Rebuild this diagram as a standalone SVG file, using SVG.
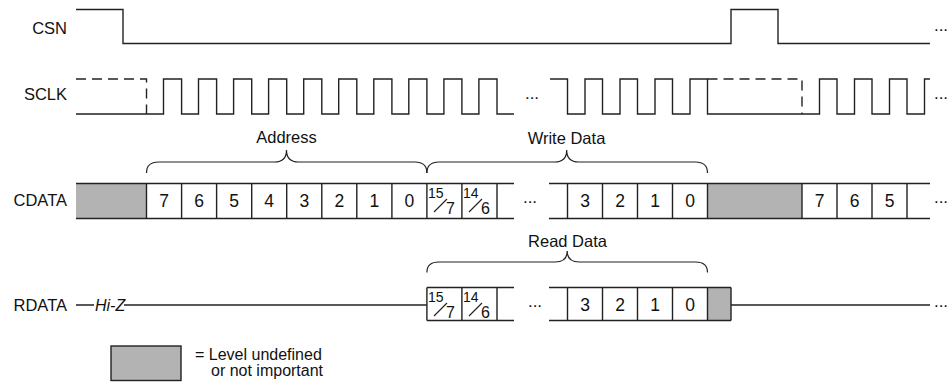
<svg xmlns="http://www.w3.org/2000/svg" width="947" height="385" viewBox="0 0 947 385">
<style>
text{font-family:"Liberation Sans",Arial,Helvetica,sans-serif;fill:#111}
.lbl{font-size:16.5px;text-anchor:end}
.dig{font-size:17.5px;text-anchor:middle}
.sup{font-size:14px}
.sub{font-size:16px}
.cap{font-size:16.5px;text-anchor:middle}
.dots{font-size:17px;text-anchor:middle}
.leg{font-size:16px}
.w{fill:none;stroke:#222;stroke-width:1.4}
.d{fill:none;stroke:#222;stroke-width:1.4;stroke-dasharray:10,6}
.g{fill:#b3b3b3;stroke:none}
.br{fill:none;stroke:#222;stroke-width:1.2}
</style>
<rect width="947" height="385" fill="#fff"/>
<g id="labels">
<text class="lbl" x="67" y="33.5">CSN</text>
<text class="lbl" x="67" y="100">SCLK</text>
<text class="lbl" x="67" y="206">CDATA</text>
<text class="lbl" x="67" y="310.5">RDATA</text>
</g>
<g id="csn">
<path class="w" d="M76,9.5 H123 V43.5 H731 V9.5 H778 V43.5 H930"/>
<text class="dots" x="941" y="31">...</text>
</g>
<g id="sclk">
<path class="d" d="M76,79 H146.5 V114"/>
<path class="w" d="M76,114 H163.5 V79 H181.6 V114 H198.5 V79 H216.6 V114 H233.6 V79 H251.7 V114 H268.6 V79 H286.7 V114 H303.7 V79 H321.8 V114 H338.7 V79 H356.8 V114 H373.8 V79 H391.9 V114 H408.8 V79 H426.9 V114 H443.9 V79 H461.9 V114 H478.9 V79 H497 V114 H514"/>
<text class="dots" x="532" y="99">...</text>
<path class="w" d="M550,79 H567.5 V114 H585 V79 H602.5 V114 H620 V79 H637.5 V114 H655 V79 H672.5 V114 H690 V79 H707.5 V114 H819.5 V79 H837 V114 H854.5 V79 H872 V114 H889.5 V79 H907 V114 H924.5 V79 H930"/>
<path class="d" d="M707.5,79 H802 V114"/>
<text class="dots" x="941" y="99">...</text>
</g>
<g id="braces">
<path class="br" d="M146.5,173 Q146.5,162 158.5,162 L274.5,162 Q286.5,162 286.5,150 Q286.5,162 298.5,162 L414.9,162 Q426.9,162 426.9,173"/>
<path class="br" d="M426.9,173 Q426.9,162 438.9,162 L554.7,162 Q566.7,162 566.7,150 Q566.7,162 578.7,162 L695.5,162 Q707.5,162 707.5,173"/>
<path class="br" d="M426.9,272.5 Q426.9,262 438.9,262 L555.2,262 Q567.2,262 567.2,251 Q567.2,262 579.2,262 L695.5,262 Q707.5,262 707.5,272.5"/>
<text class="cap" x="286.5" y="143">Address</text>
<text class="cap" x="566.5" y="144">Write Data</text>
<text class="cap" x="567.5" y="247">Read Data</text>
</g>
<g id="cdata">
<rect class="g" x="76" y="183.5" width="70.5" height="35"/>
<rect class="g" x="707.5" y="183.5" width="94.5" height="35"/>
<path class="w" d="M76,183.5 H514 M76,218.5 H514 M549,183.5 H930 M549,218.5 H930 M146.5,183.5 V218.5 M181.6,183.5 V218.5 M216.6,183.5 V218.5 M251.7,183.5 V218.5 M286.7,183.5 V218.5 M321.8,183.5 V218.5 M356.8,183.5 V218.5 M391.9,183.5 V218.5 M426.9,183.5 V218.5 M461.9,183.5 V218.5 M497,183.5 V218.5 M567.5,183.5 V218.5 M602.5,183.5 V218.5 M637.5,183.5 V218.5 M672.5,183.5 V218.5 M707.5,183.5 V218.5 M802,183.5 V218.5 M837,183.5 V218.5 M872,183.5 V218.5 M907,183.5 V218.5"/>
<text class="dig" x="164" y="206.5">7</text>
<text class="dig" x="199.1" y="206.5">6</text>
<text class="dig" x="234.2" y="206.5">5</text>
<text class="dig" x="269.2" y="206.5">4</text>
<text class="dig" x="304.3" y="206.5">3</text>
<text class="dig" x="339.3" y="206.5">2</text>
<text class="dig" x="374.4" y="206.5">1</text>
<text class="dig" x="409.4" y="206.5">0</text>
<text class="sup" x="428" y="197.5">15</text>
<path class="br" d="M434,212 L447,199 M469,212 L482,199"/>
<text class="sub" x="446" y="213.5">7</text>
<text class="sup" x="463" y="197.5">14</text>
<text class="sub" x="481" y="213.5">6</text>
<text class="dots" x="530" y="203">...</text>
<text class="dig" x="585" y="206.5">3</text>
<text class="dig" x="620" y="206.5">2</text>
<text class="dig" x="655" y="206.5">1</text>
<text class="dig" x="690" y="206.5">0</text>
<text class="dig" x="819.5" y="206.5">7</text>
<text class="dig" x="854.5" y="206.5">6</text>
<text class="dig" x="889.5" y="206.5">5</text>
<text class="dots" x="941" y="203">...</text>
</g>
<g id="rdata">
<path class="w" d="M76,305 H94 M124,305 H426.9"/>
<text x="95" y="310.5" style="font-size:16px;font-style:italic">Hi-Z</text>
<rect class="g" x="707.5" y="287.5" width="23.5" height="33"/>
<path class="w" d="M426.9,287.5 H514 M426.9,320.5 H514 M549,287.5 H731 M549,320.5 H731 M426.9,287.5 V320.5 M461.9,287.5 V320.5 M497,287.5 V320.5 M567.5,287.5 V320.5 M602.5,287.5 V320.5 M637.5,287.5 V320.5 M672.5,287.5 V320.5 M707.5,287.5 V320.5 M731,287.5 V320.5 M731,305 H930"/>
<text class="sup" x="428" y="301.5">15</text>
<path class="br" d="M434,316 L447,303 M469,316 L482,303"/>
<text class="sub" x="446" y="317.5">7</text>
<text class="sup" x="463" y="301.5">14</text>
<text class="sub" x="481" y="317.5">6</text>
<text class="dots" x="535" y="307">...</text>
<text class="dig" x="585" y="310.5">3</text>
<text class="dig" x="620" y="310.5">2</text>
<text class="dig" x="655" y="310.5">1</text>
<text class="dig" x="690" y="310.5">0</text>
<text class="dots" x="941" y="307">...</text>
</g>
<g id="legend">
<rect x="111" y="346" width="70" height="34.5" fill="#b3b3b3" stroke="#222" stroke-width="1.4"/>
<text class="leg" x="195" y="360">= Level undefined</text>
<text class="leg" x="211" y="376">or not important</text>
</g>
</svg>
